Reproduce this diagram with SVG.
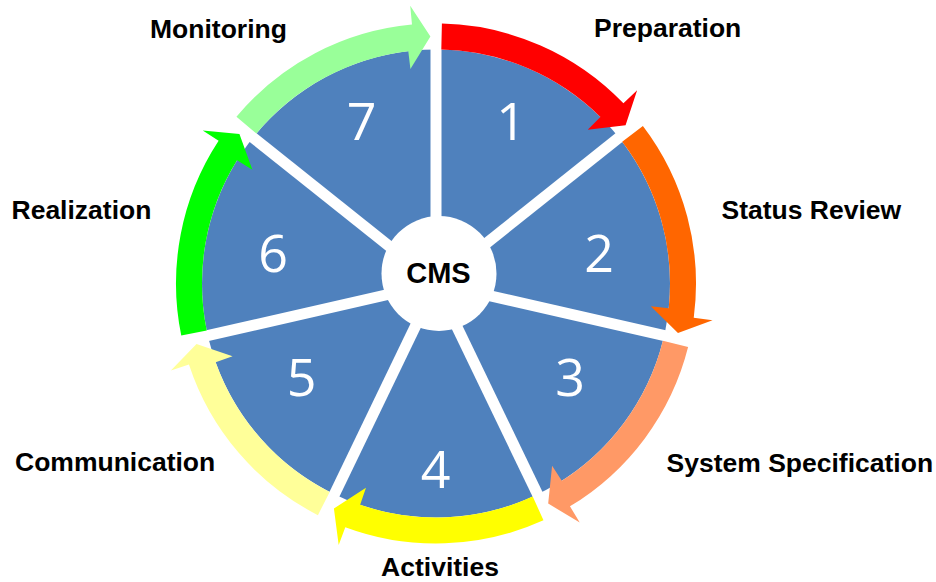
<svg xmlns="http://www.w3.org/2000/svg" width="936" height="582" viewBox="0 0 936 582">
<style>
.lbl{font-family:"Liberation Sans",Arial,sans-serif;font-weight:bold;font-size:26.5px;fill:#000}
.num{font-family:"Open Sans","DejaVu Sans",sans-serif;font-size:52px;fill:#fff;text-anchor:middle}
.spoke{stroke:#fff;stroke-width:11;stroke-linecap:butt}
.hub{font-family:"Liberation Sans",Arial,sans-serif;font-weight:bold;font-size:29px;fill:#000;text-anchor:middle}
</style>
<rect width="936" height="582" fill="#fff"/>
<g id="wheel">
<circle cx="436" cy="283.5" r="234" fill="#4F81BD"/>
<g class="spoke">
<line x1="436" y1="283.5" x2="436" y2="43.5"/>
<line x1="436" y1="283.5" x2="623.64" y2="133.86"/>
<line x1="436" y1="283.5" x2="669.98" y2="336.91"/>
<line x1="436" y1="283.5" x2="540.13" y2="499.73"/>
<line x1="436" y1="283.5" x2="331.87" y2="499.73"/>
<line x1="436" y1="283.5" x2="202.02" y2="336.91"/>
<line x1="436" y1="283.5" x2="248.36" y2="133.86"/>
</g>
</g>
<g id="connectors">
<path id="arrow1" fill="#FF0000" d="M441.31,49.56 L441.90,23.57 A260,260 0 0 1 623.43,103.31 L637.13,90.14 L625.57,125.16 L587.75,129.78 L600.39,116.96 A234,234 0 0 0 441.31,49.56 Z"/>
<path id="arrow2" fill="#FF6600" d="M622.21,141.79 L642.90,126.05 A260,260 0 0 1 693.74,317.69 L712.58,320.19 L677.99,332.99 L650.79,306.29 L668.69,308.19 A234,234 0 0 0 622.21,141.79 Z"/>
<path id="arrow3" fill="#FF9966" d="M662.89,340.73 L688.10,347.09 A260,260 0 0 1 569.97,506.33 L579.75,522.61 L548.19,503.55 L552.10,465.64 L561.78,480.82 A234,234 0 0 0 662.89,340.73 Z"/>
<path id="arrow4" fill="#FFFF00" d="M532.72,496.58 L543.47,520.25 A260,260 0 0 1 345.31,527.17 L338.68,544.98 L333.91,508.41 L365.98,487.84 L360.15,504.87 A234,234 0 0 0 532.72,496.58 Z"/>
<path id="arrow5" fill="#FFFF99" d="M329.71,491.97 L317.90,515.13 A260,260 0 0 1 188.95,364.52 L170.89,370.44 L196.50,343.91 L232.59,356.16 L215.64,362.22 A234,234 0 0 0 329.71,491.97 Z"/>
<path id="arrow6" fill="#00FF00" d="M206.74,330.38 L181.27,335.59 A260,260 0 0 1 218.62,140.86 L202.73,130.44 L239.44,133.92 L252.36,169.77 L237.06,160.29 A234,234 0 0 0 206.74,330.38 Z"/>
<path id="arrow7" fill="#99FF99" d="M256.41,133.49 L236.45,116.82 A260,260 0 0 1 411.98,24.61 L410.23,5.69 L430.40,36.56 L410.42,69.02 L408.29,51.15 A234,234 0 0 0 256.41,133.49 Z"/>
</g>
<g id="hub">
<circle cx="439" cy="273.5" r="57.5" fill="#fff"/>
<text class="hub" x="438.5" y="282.5">CMS</text>
</g>
<g id="step1"><text class="num" x="511" y="140">1</text><text class="lbl" x="594" y="37">Preparation</text></g>
<g id="step2"><text class="num" x="599" y="272">2</text><text class="lbl" x="721.5" y="218.5">Status Review</text></g>
<g id="step3"><text class="num" x="570" y="396">3</text><text class="lbl" x="666.5" y="471.5">System Specification</text></g>
<g id="step4"><text class="num" x="435.5" y="488">4</text><text class="lbl" x="440" y="576" text-anchor="middle">Activities</text></g>
<g id="step5"><text class="num" x="301.5" y="396">5</text><text class="lbl" x="15" y="471">Communication</text></g>
<g id="step6"><text class="num" x="273" y="272">6</text><text class="lbl" x="11.5" y="219">Realization</text></g>
<g id="step7"><text class="num" x="361.5" y="140">7</text><text class="lbl" x="150" y="38">Monitoring</text></g>
</svg>
